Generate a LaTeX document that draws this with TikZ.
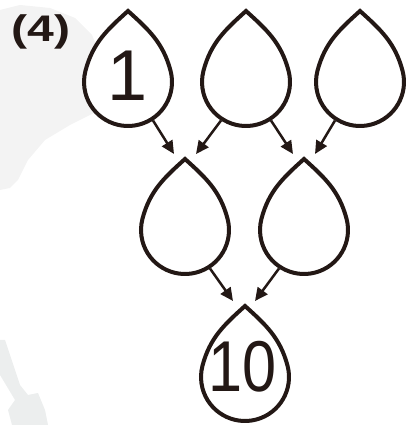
\documentclass[tikz,border=0pt]{standalone}
\usepackage{fontspec}
\setmainfont{Liberation Sans}
\usetikzlibrary{arrows.meta,calc}
\definecolor{ink}{HTML}{231815}
\definecolor{haze}{HTML}{F3F3F3}
\definecolor{haze2}{HTML}{ECEEEE}
\newcommand\drawdrop[1]{\path[dropline] ($(#1.center)+(0,71)$) to[out=-42,in=105] ($(#1.center)+(15:44)$) arc[start angle=15,end angle=-195,radius=44] to[out=75,in=-138] cycle;}
\begin{document}
\begin{tikzpicture}[x=1pt,y=1pt,
  dropline/.style={line width=4pt, draw=ink, fill=white, line join=miter, miter limit=10},
  slot/.style={circle, minimum size=88pt, inner sep=0pt, outer sep=2pt, draw=none},
  link/.style={line width=2.5pt, draw=ink, -{Triangle[length=13pt,width=12pt]}},
  digit/.style={font=\fontsize{72}{72}\selectfont, text=ink, inner sep=0pt},
  tag/.style={font=\bfseries\fontsize{37}{37}\selectfont, text=ink, inner sep=0pt}]
\useasboundingbox (0,0) rectangle (406,425);
% faint background shapes
\fill[haze] (0,415) -- (20,420) -- (50,417) -- (75,407) -- (92,390) -- (102,365) -- (108,335) -- (100,315) -- (70,300) -- (45,285) -- (28,265) -- (18,245) -- (10,237) -- (0,235) -- cycle;
\fill[haze2] (0,85) -- (5,85) -- (20,40) -- (28,30) -- (38,32) -- (45,15) -- (48,0) -- (12,0) -- (8,15) -- (15,25) -- (0,50) -- cycle;
% drop slots
\node[slot] (A) at (128,343) {};
\node[slot] (B) at (246,343) {};
\node[slot] (C) at (360,343) {};
\node[slot] (D) at (185,195) {};
\node[slot] (E) at (304,195) {};
\node[slot] (F) at (245,48) {};
\foreach \n in {A,B,C,D,E,F} {\drawdrop{\n}}
% texts
\node[tag] (t4) at (41,393) {\scalebox{1.3}[1]{(4)}};
\node[digit] (n1) at (128,349) {1};
\node[digit] (n10) at (243,58) {\scalebox{0.85}[1]{10}};
% arrow targets
\coordinate (Dl) at ($(D.center)+(-11,76)$);
\coordinate (Dr) at ($(D.center)+(11,76)$);
\coordinate (El) at ($(E.center)+(-11,76)$);
\coordinate (Er) at ($(E.center)+(11,76)$);
\coordinate (Fl) at ($(F.center)+(-12,76)$);
\coordinate (Fr) at ($(F.center)+(10,76)$);
% arrows
\draw[link] (A.-57) -- (Dl);
\draw[link] (B.-123) -- (Dr);
\draw[link] (B.-57) -- (El);
\draw[link] (C.-123) -- (Er);
\draw[link] (D.-57) -- (Fl);
\draw[link] (E.-123) -- (Fr);
\end{tikzpicture}
\end{document}
